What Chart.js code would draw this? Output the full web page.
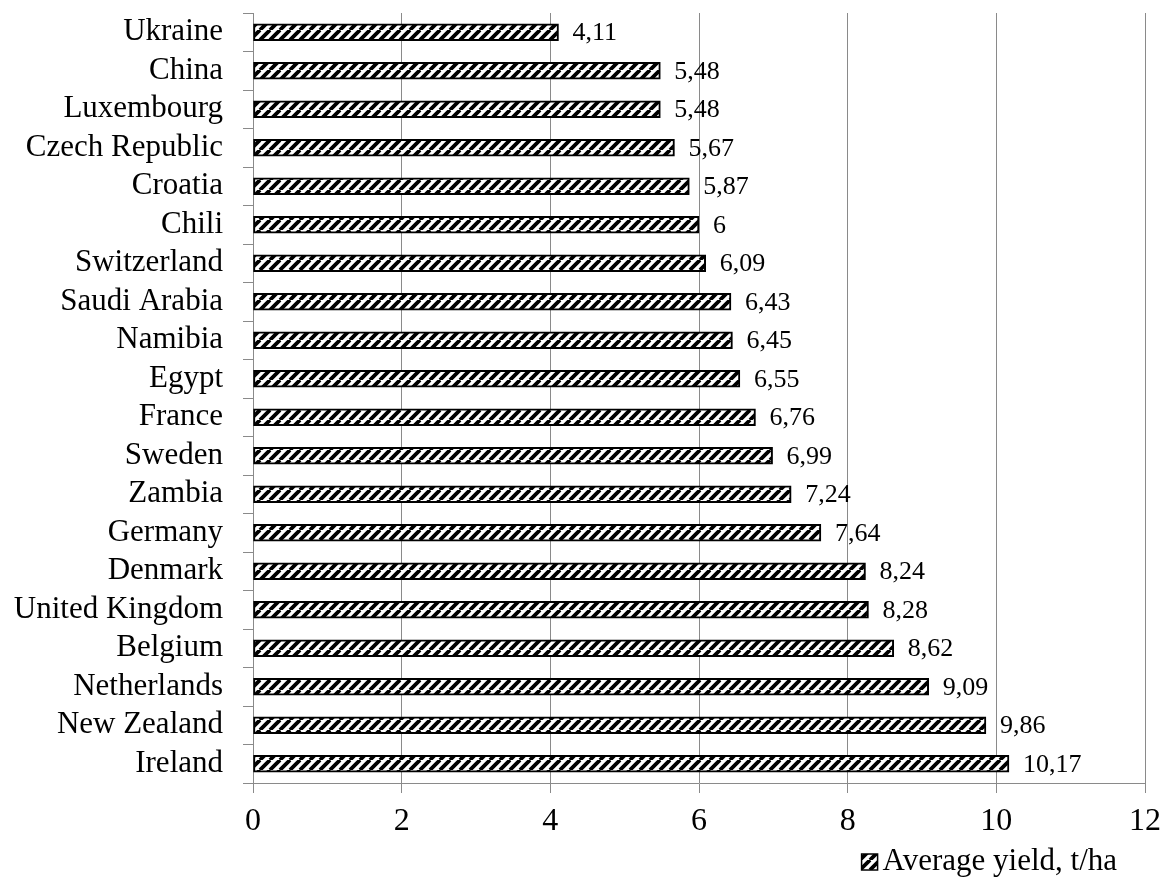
<!DOCTYPE html>
<html>
<head>
<meta charset="utf-8">
<script src="https://cdn.jsdelivr.net/npm/chart.js@4/dist/chart.umd.min.js"></script>
<style>
  html, body { margin: 0; padding: 0; background: #fff; }
</style>
</head>
<body>
<canvas id="yieldChart" width="1164" height="879"></canvas>
<script>
const countries = ['Ukraine', 'China', 'Luxembourg', 'Czech Republic', 'Croatia', 'Chili', 'Switzerland',
    'Saudi Arabia', 'Namibia', 'Egypt', 'France', 'Sweden', 'Zambia', 'Germany', 'Denmark',
    'United Kingdom', 'Belgium', 'Netherlands', 'New Zealand', 'Ireland'];
const yields = [4.11, 5.48, 5.48, 5.67, 5.87, 6, 6.09, 6.43, 6.45, 6.55, 6.76, 6.99, 7.24, 7.64, 8.24,
    8.28, 8.62, 9.09, 9.86, 10.17];
const seriesName = 'Average yield, t/ha';
const xTicks = [0, 2, 4, 6, 8, 10, 12];

const serif = '"Liberation Serif", "Times New Roman", serif';
const gridGray = '#8a8a8a';

// wide upward diagonal hatch, like the excel fill
function makeHatch() {
    const size = 10;
    const c = document.createElement('canvas');
    c.width = size;
    c.height = size;
    const g = c.getContext('2d');
    g.fillStyle = '#fff';
    g.fillRect(0, 0, size, size);
    g.strokeStyle = '#000';
    g.lineWidth = 3.8;
    g.beginPath();
    for (let k = -1; k <= 1; k++) {
        g.moveTo(k * size, size);
        g.lineTo(k * size + size, 0);
    }
    g.stroke();
    return g.createPattern(c, 'repeat');
}

const hatch = makeHatch();

// numbers at the bar ends, with comma decimals
const valueLabels = {
    id: 'valueLabels',
    afterDatasetsDraw(chart) {
        const ctx = chart.ctx;
        const meta = chart.getDatasetMeta(0);
        ctx.save();
        ctx.font = '26px ' + serif;
        ctx.fillStyle = '#000';
        ctx.textAlign = 'left';
        ctx.textBaseline = 'middle';
        meta.data.forEach((bar, i) => {
            const txt = String(yields[i]).replace('.', ',');
            ctx.fillText(txt, bar.x + 14, bar.y + 1);
        });
        ctx.restore();
    }
};

// legend drawn by hand so the box sits close to the text
const boxLegend = {
    id: 'boxLegend',
    afterDraw(chart) {
        const ctx = chart.ctx;
        ctx.save();
        ctx.font = '31px ' + serif;
        const textRight = chart.width - 47;
        const textLeft = textRight - ctx.measureText(seriesName).width;
        const cy = chart.height - 17;
        ctx.fillStyle = hatch;
        ctx.fillRect(textLeft - 21, cy - 8, 16, 16);
        ctx.strokeStyle = '#000';
        ctx.lineWidth = 1.5;
        ctx.strokeRect(textLeft - 21, cy - 8, 16, 16);
        ctx.fillStyle = '#000';
        ctx.textAlign = 'left';
        ctx.textBaseline = 'middle';
        ctx.fillText(seriesName, textLeft, cy);
        ctx.restore();
    }
};

new Chart(document.getElementById('yieldChart'), {
    type: 'bar',
    data: {
        labels: countries,
        datasets: [{
            label: seriesName,
            data: yields,
            backgroundColor: hatch,
            borderColor: '#000',
            borderWidth: 2,
            borderSkipped: false,
            barThickness: 17
        }]
    },
    options: {
        indexAxis: 'y',
        responsive: false,
        animation: false,
        layout: { padding: { top: 13, right: 19, left: 0, bottom: 0 } },
        scales: {
            x: {
                min: 0,
                max: 12,
                afterBuildTicks: (scale) => { scale.ticks = xTicks.map(v => ({ value: v })); },
                afterFit: (scale) => {
                    scale.height = 96;
                    scale.paddingLeft = 0;
                    scale.paddingRight = 0;
                },
                grid: { color: gridGray, lineWidth: 1, tickLength: 10, drawTicks: true },
                border: { color: gridGray },
                ticks: { color: '#000', font: { family: serif, size: 32 }, padding: 9 }
            },
            y: {
                afterFit: (scale) => {
                    scale.width = 253;
                    scale.paddingTop = 0;
                    scale.paddingBottom = 0;
                },
                grid: { offset: true, drawOnChartArea: false, color: gridGray, tickLength: 10 },
                border: { color: gridGray },
                ticks: { color: '#000', font: { family: serif, size: 31 }, padding: 20, autoSkip: false }
            }
        },
        plugins: {
            legend: { display: false },
            tooltip: { enabled: false }
        }
    },
    plugins: [valueLabels, boxLegend]
});
</script>
</body>
</html>
